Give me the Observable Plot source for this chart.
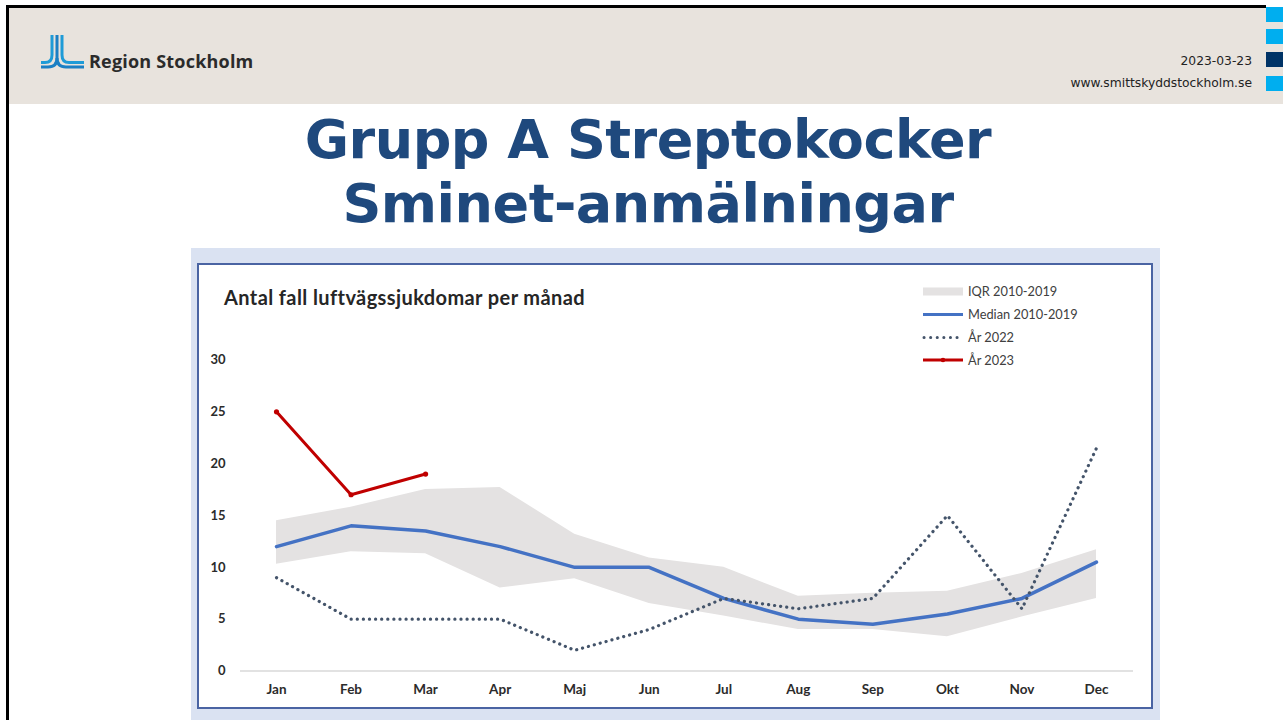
<!DOCTYPE html>
<html>
<head>
<meta charset="utf-8">
<script src="https://cdn.jsdelivr.net/npm/d3@7"></script>
<script src="https://cdn.jsdelivr.net/npm/@observablehq/plot@0.6"></script>
<style>
  html, body { margin: 0; padding: 0; background: #ffffff; }
  body { width: 1283px; height: 720px; position: relative; overflow: hidden; }
  .abs { position: absolute; }
  #header { left: 9px; top: 8px; width: 1274px; height: 96px; background: #e8e3dd; }
  #borderTop { left: 6px; top: 5px; width: 1260px; height: 3px; background: #000; }
  #borderLeft { left: 6px; top: 5px; width: 3px; height: 715px; background: #000; }
  #panel { left: 191px; top: 248px; width: 969px; height: 480px; background: #dae2f2; }
  #box { left: 197px; top: 263px; width: 956px; height: 446px; box-sizing: border-box; border: 2px solid #4a64a3; background: #ffffff; }
  #chart { left: 198px; top: 264px; width: 954px; height: 444px; }
  #overlay { left: 0; top: 0; }
</style>
</head>
<body>
<div id="header" class="abs"></div>
<div id="borderTop" class="abs"></div>
<div id="borderLeft" class="abs"></div>
<div id="panel" class="abs"></div>
<div id="box" class="abs"></div>
<div id="chart" class="abs"></div>
<svg id="overlay" class="abs" width="1283" height="720" xmlns="http://www.w3.org/2000/svg"></svg>
<script>
// ---- Data ----
const months = ["Jan", "Feb", "Mar", "Apr", "Maj", "Jun", "Jul", "Aug", "Sep", "Okt", "Nov", "Dec"];
const median2010_2019 = [12, 14, 13.5, 12, 10, 10, 7, 5, 4.5, 5.5, 7, 10.5];
const iqrLow = [10.3, 11.5, 11.3, 8, 8.9, 6.5, 5.3, 4, 4, 3.3, 5.2, 7];
const iqrHigh = [14.5, 15.8, 17.5, 17.7, 13.2, 10.9, 10, 7.2, 7.5, 7.7, 9.4, 11.7];
const year2022 = [9, 5, 5, 5, 2, 4, 7, 6, 7, 15, 6, 21.5];
const months2023 = ["Jan", "Feb", "Mar"];
const year2023 = [25, 17, 19];
const yTicks = [0, 5, 10, 15, 20, 25, 30];
const legendLabels = ["IQR 2010-2019", "Median 2010-2019", "År 2022", "År 2023"];

const colIQR = "#e4e2e2";
const colMedian = "#4472c4";
const col2022 = "#44546a";
const col2023 = "#c00000";

const rows = months.map((m, i) => ({month: m, median: median2010_2019[i], lo: iqrLow[i], hi: iqrHigh[i], y2022: year2022[i]}));
const rows2023 = months2023.map((m, i) => ({month: m, value: year2023[i]}));

const chart = Plot.plot({
  width: 954,
  height: 444,
  marginLeft: 42,
  marginRight: 19,
  marginTop: 20,
  marginBottom: 37.5,
  style: {fontFamily: "Lato, sans-serif", color: "#2b2b2b", background: "transparent"},
  x: {type: "point", domain: months, range: [78, 898], padding: 0, round: false, label: null},
  y: {domain: [0, 30], range: [406.5, 95.5], label: null},
  marks: [
    Plot.ruleY([0], {stroke: "#d9d9d9", strokeWidth: 1.5}),
    Plot.areaY(rows, {x: "month", y1: "lo", y2: "hi", fill: colIQR}),
    Plot.lineY(rows, {x: "month", y: "median", stroke: colMedian, strokeWidth: 3.5}),
    Plot.lineY(rows, {x: "month", y: "y2022", stroke: col2022, strokeWidth: 3.2, strokeDasharray: "0.1 6", strokeLinecap: "round"}),
    Plot.lineY(rows2023, {x: "month", y: "value", stroke: col2023, strokeWidth: 3}),
    Plot.dot(rows2023, {x: "month", y: "value", r: 2.6, fill: col2023}),
    Plot.axisY({ticks: yTicks, tickSize: 0, tickPadding: 15, fontSize: 13, fontWeight: "bold", label: null}),
    Plot.axisX({tickSize: 0, tickPadding: 13, fontSize: 13.5, fontWeight: "bold", label: null})
  ]
});
document.getElementById("chart").appendChild(chart);

// ---- Overlay: header, titles, legend ----
const svg = d3.select("#overlay");
// right-side squares
[[7, "#00aeef"], [29, "#00aeef"], [52, "#003366"], [76, "#00aeef"]].forEach(([y, c]) => {
  svg.append("rect").attr("x", 1266).attr("y", y).attr("width", 17).attr("height", 15).attr("fill", c);
});
// logo icon
const logo = svg.append("g").attr("fill", "none").attr("stroke", "#1e9bd7").attr("stroke-width", 3);
logo.append("path").attr("d", "M52,35 V55 Q52,62.5 45,62.5 H41");
logo.append("path").attr("d", "M57,35 V58 Q57,67 48,67 H41").attr("stroke", "#1a7fc4");
logo.append("path").attr("d", "M62,35 V55 Q62,62.5 69,62.5 H84");
logo.append("path").attr("d", "M57,58 Q57,67 66,67 H84").attr("stroke", "#1a7fc4");
svg.append("text").attr("x", 89).attr("y", 68).attr("font-family", "Open Sans, sans-serif")
  .attr("font-weight", "bold").attr("font-size", 18).attr("fill", "#2b2b2b").attr("letter-spacing", 0.2).text("Region Stockholm");
svg.append("text").attr("x", 1252).attr("y", 65).attr("text-anchor", "end").attr("font-family", "DejaVu Sans, sans-serif")
  .attr("font-size", 12.3).attr("fill", "#222").text("2023-03-23");
svg.append("text").attr("x", 1252).attr("y", 87).attr("text-anchor", "end").attr("font-family", "DejaVu Sans, sans-serif")
  .attr("font-size", 12.3).attr("fill", "#222").text("www.smittskyddstockholm.se");
// main title
svg.append("text").attr("x", 648).attr("y", 158).attr("text-anchor", "middle").attr("font-family", "DejaVu Sans, sans-serif")
  .attr("font-weight", "bold").attr("font-size", 54).attr("letter-spacing", -0.5).attr("fill", "#1f497d").text("Grupp A Streptokocker");
svg.append("text").attr("x", 648).attr("y", 221.5).attr("text-anchor", "middle").attr("font-family", "DejaVu Sans, sans-serif")
  .attr("font-weight", "bold").attr("font-size", 54).attr("letter-spacing", -0.5).attr("fill", "#1f497d").text("Sminet-anmälningar");
// chart title
svg.append("text").attr("x", 224).attr("y", 305).attr("font-family", "Lato, sans-serif")
  .attr("font-weight", "bold").attr("font-size", 20).attr("letter-spacing", 0.4).attr("fill", "#262626").text("Antal fall luftvägssjukdomar per månad");
// legend
const lx0 = 923, lx1 = 963, tx = 968;
const ly = [291.5, 314.5, 337.5, 360];
svg.append("rect").attr("x", lx0).attr("y", ly[0] - 4).attr("width", lx1 - lx0).attr("height", 8).attr("fill", colIQR);
svg.append("line").attr("x1", lx0).attr("x2", lx1).attr("y1", ly[1]).attr("y2", ly[1]).attr("stroke", colMedian).attr("stroke-width", 3);
svg.append("line").attr("x1", lx0 + 1).attr("x2", lx1).attr("y1", ly[2]).attr("y2", ly[2]).attr("stroke", col2022)
  .attr("stroke-width", 3).attr("stroke-dasharray", "0.1 6.5").attr("stroke-linecap", "round");
svg.append("line").attr("x1", lx0).attr("x2", lx1).attr("y1", ly[3]).attr("y2", ly[3]).attr("stroke", col2023).attr("stroke-width", 3);
svg.append("circle").attr("cx", (lx0 + lx1) / 2).attr("cy", ly[3]).attr("r", 2.3).attr("fill", col2023);
legendLabels.forEach((t, i) => {
  svg.append("text").attr("x", tx).attr("y", ly[i] + 4.5).attr("font-family", "Lato, sans-serif")
    .attr("font-size", 12.8).attr("fill", "#404040").text(t);
});
</script>
</body>
</html>
